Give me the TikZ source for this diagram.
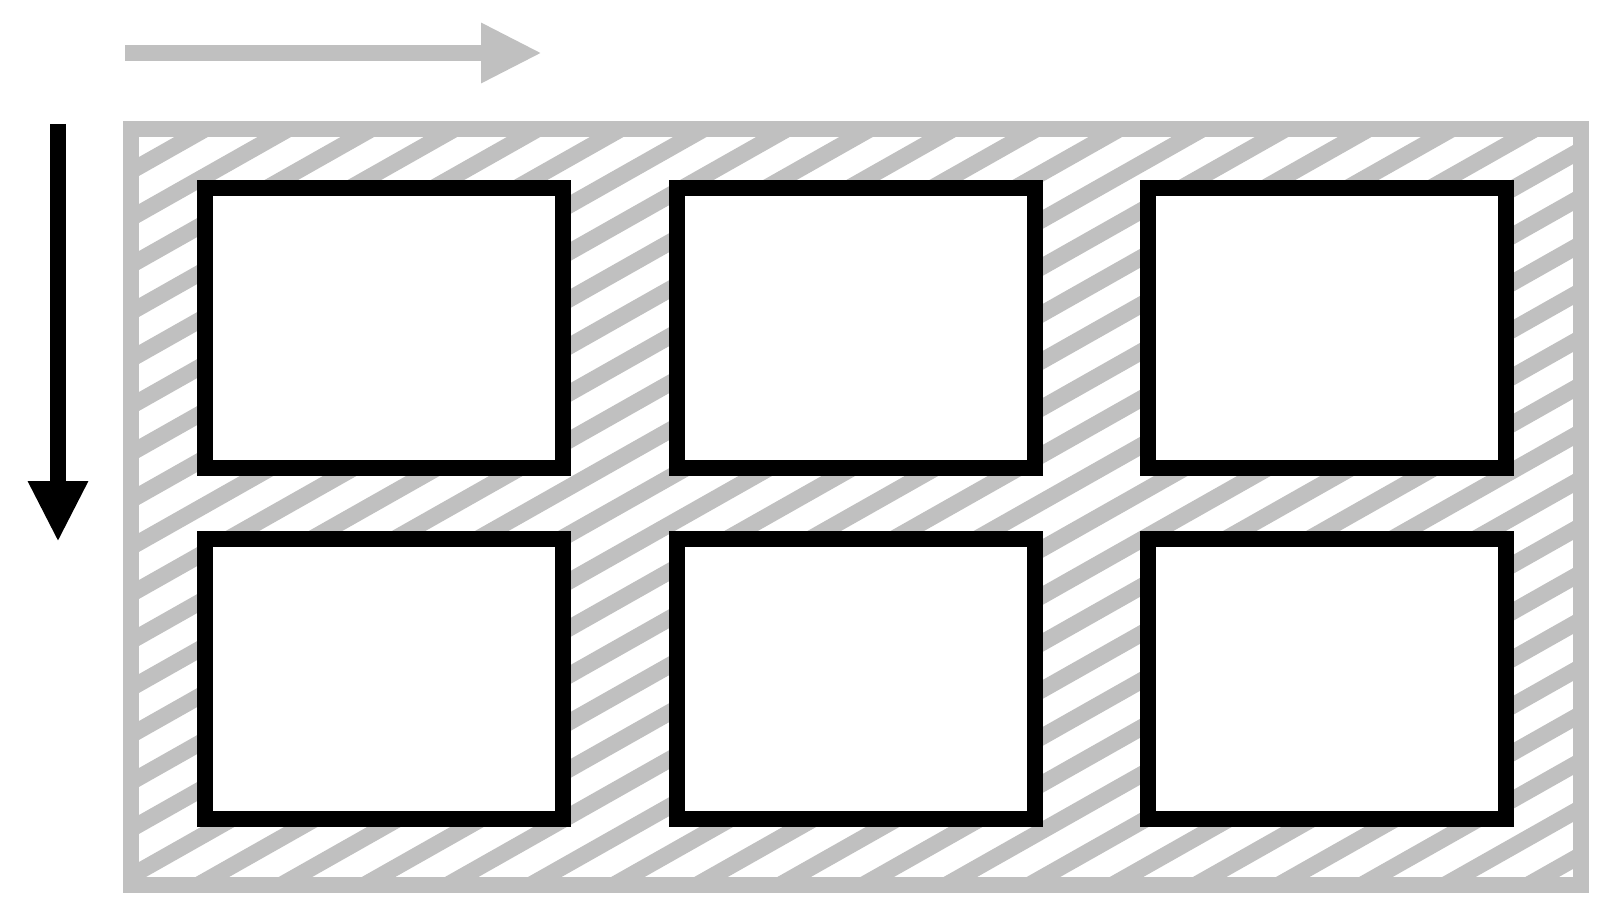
\documentclass[tikz,border=0pt]{standalone}
\usetikzlibrary{arrows.meta}
\definecolor{hatchgray}{RGB}{192,192,192}

\begin{document}
\begin{tikzpicture}[x=0.1mm,y=-0.1mm]
  \path[use as bounding box] (0,0) rectangle (1600,900);

  % hatched frame
  \begin{scope}
    \clip (131,129) rectangle (1581,885);
    \foreach \k in {-1,...,33}
      \draw[hatchgray,line width=1.65mm] (131,171+47*\k) -- ++(1450,-820);
  \end{scope}
  \draw[hatchgray,line width=1.65mm] (131,129) rectangle (1581,885);

  % cells
  \foreach \x in {205,677,1148}
    \foreach \y in {188,539}
      \draw[line width=1.65mm,fill=white] (\x,\y) rectangle ++(358,280);

  % arrows
  \draw[hatchgray,line width=1.68mm,-{Triangle[length=6.1mm,width=5.6mm]}] (125,53) -- (542,53);
  \draw[black,line width=1.68mm,-{Triangle[length=6.1mm,width=5.6mm]}] (58,124) -- (58,542);
\end{tikzpicture}
\end{document}
